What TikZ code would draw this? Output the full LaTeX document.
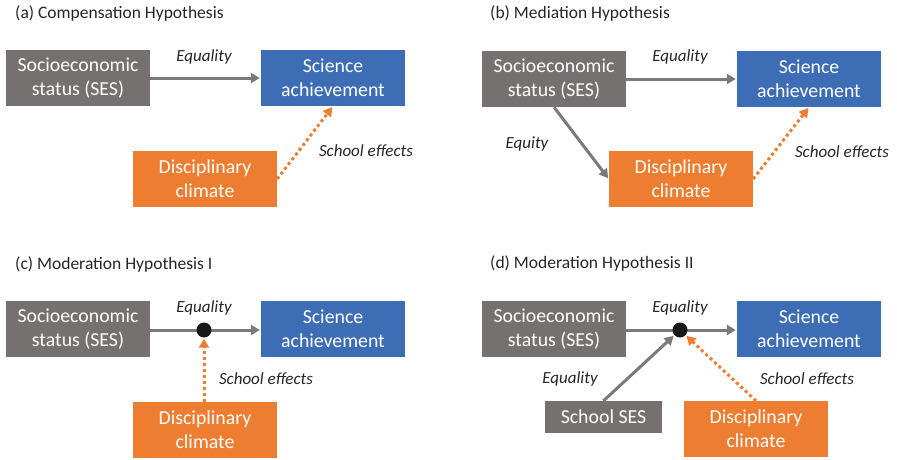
\documentclass[tikz,border=0pt]{standalone}
\usepackage{fontspec}
\setmainfont{Carlito}
\usetikzlibrary{arrows.meta}
\definecolor{boxgray}{HTML}{767171}
\definecolor{boxblue}{HTML}{3C6DB5}
\definecolor{boxorange}{HTML}{ED7D31}
\definecolor{arrgray}{HTML}{7A7A7A}
\definecolor{txtdark}{HTML}{262626}
\tikzset{
  box/.style={minimum width=144pt, minimum height=56pt, inner sep=0pt, align=center,
    text=white, font=\fontsize{19.8}{24}\selectfont},
  sesbox/.style={box, fill=boxgray},
  scibox/.style={box, fill=boxblue},
  discbox/.style={box, fill=boxorange},
  arr/.style={draw=arrgray, line width=3pt, -{Triangle[length=9pt,width=10pt]}, shorten >=1pt},
  plainline/.style={draw=arrgray, line width=3pt},
  dotarr/.style={draw=boxorange, line width=3pt, dash pattern=on 3pt off 3pt,
    -{Triangle[length=9pt,width=10pt]}, shorten >=1pt},
  lbl/.style={font=\fontsize{17}{20}\selectfont\itshape, text=txtdark, inner sep=0pt},
  ttl/.style={font=\fontsize{17.5}{21}\selectfont, text=txtdark, inner sep=0pt, anchor=west},
  joint/.style={circle, fill=black!90, minimum size=15pt, inner sep=0pt}
}
\begin{document}
\begin{tikzpicture}[x=1pt,y=-1pt]
\useasboundingbox (0,0) rectangle (897,459);
% (a)
\node[ttl] (tA) at (15,14) {(a) Compensation Hypothesis};
\node[sesbox] (sesA) at (78,78) {Socioeconomic\\status (SES)};
\node[scibox] (sciA) at (333,78) {Science\\achievement};
\node[discbox] (discA) at (205,179) {Disciplinary\\climate};
\draw[arr] (sesA) -- (sciA);
\draw[dotarr] (discA.east) -- (sciA.south);
\node[lbl] (eqA) at (204,57) {Equality};
\node[lbl] (seA) at (366,151) {School effects};
% (b)
\node[ttl] (tB) at (490,14) {(b) Mediation Hypothesis};
\node[sesbox] (sesB) at (554,79) {Socioeconomic\\status (SES)};
\node[scibox] (sciB) at (809,79) {Science\\achievement};
\node[discbox] (discB) at (681,179) {Disciplinary\\climate};
\draw[arr] (sesB) -- (sciB);
\draw[arr] (sesB.south) -- (discB.west);
\draw[dotarr] (discB.east) -- (sciB.south);
\node[lbl] (eqB) at (680,57) {Equality};
\node[lbl] (eyB) at (527,144) {Equity};
\node[lbl] (seB) at (842,152) {School effects};
% (c)
\node[ttl] (tC) at (15,265) {(c) Moderation Hypothesis I};
\node[sesbox] (sesC) at (78,329) {Socioeconomic\\status (SES)};
\node[scibox] (sciC) at (333,329) {Science\\achievement};
\node[discbox] (discC) at (205,430) {Disciplinary\\climate};
\coordinate (jc) at (204,330);
\draw[plainline] (sesC.east |- jc) -- (jc);
\draw[arr] (jc) -- (sciC.west |- jc);
\node[joint] (dotC) at (jc) {};
\draw[dotarr] (discC.north -| dotC) -- (dotC.south);
\node[lbl] (eqC) at (204,308) {Equality};
\node[lbl] (seC) at (266,379) {School effects};
% (d)
\node[ttl] (tD) at (490,264) {(d) Moderation Hypothesis II};
\node[sesbox] (sesD) at (554,329) {Socioeconomic\\status (SES)};
\node[scibox] (sciD) at (809,329) {Science\\achievement};
\node[box, fill=boxgray, minimum width=117pt, minimum height=32pt] (schD) at (603.5,417) {School SES};
\node[discbox] (discD) at (756,429) {Disciplinary\\climate};
\coordinate (jd) at (680,330);
\draw[plainline] (sesD.east |- jd) -- (jd);
\draw[arr] (jd) -- (sciD.west |- jd);
\node[joint] (dotD) at (jd) {};
\draw[arr] (schD.north) -- (dotD);
\draw[dotarr] (discD.north) -- (dotD);
\node[lbl] (eqD) at (680,308) {Equality};
\node[lbl] (eqD2) at (570,379) {Equality};
\node[lbl] (seD) at (807,379) {School effects};
\end{tikzpicture}
\end{document}
